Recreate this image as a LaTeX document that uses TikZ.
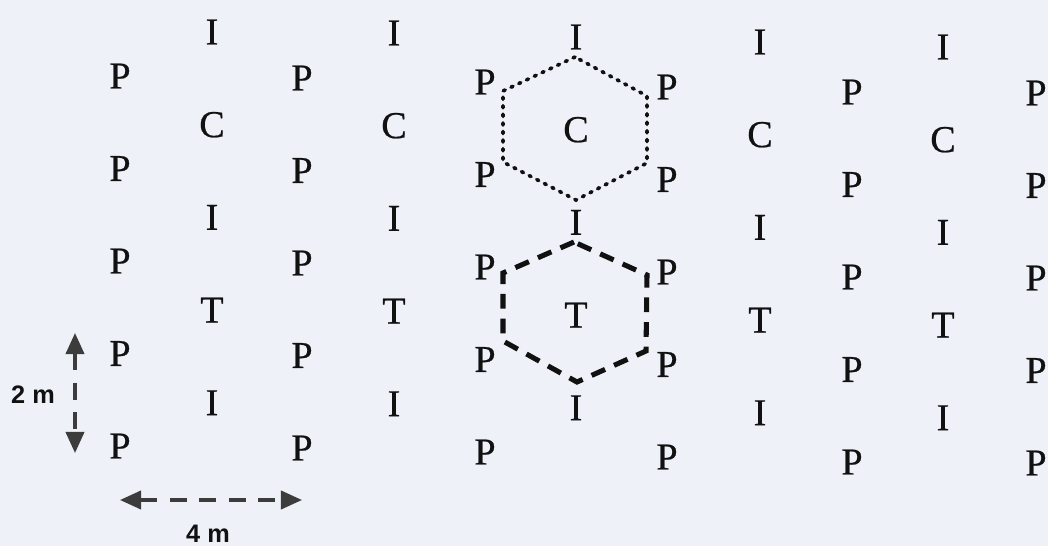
\documentclass[tikz,border=0pt]{standalone}
\usepackage{fontspec}
\setmainfont{Liberation Serif}
\newfontfamily\treefont[FakeBold=0.6]{Liberation Serif}
\newfontfamily\dimfont{Liberation Sans}
\usetikzlibrary{arrows.meta,calc}
\definecolor{paper}{HTML}{EEF2F8}
\definecolor{ink}{HTML}{111111}
\definecolor{dimgrey}{HTML}{3C3C3C}

\begin{document}
\begin{tikzpicture}[
  x=0.025cm, y=-0.025cm,
  >={Triangle[length=15pt,width=13pt]},
  tree/.style={font=\treefont\fontsize{27}{31}\selectfont, text=ink, inner sep=0pt},
  dimarr/.style={<->, draw=dimgrey, line width=2.3pt, dash pattern=on 12pt off 9pt},
  dimlab/.style={font=\dimfont\bfseries\fontsize{18}{20}\selectfont, text=ink, inner sep=0pt},
  hexdot/.style={draw=ink, line width=2.6pt, line cap=round, dash pattern=on 1.5pt off 4.6pt},
  hexdash/.style={draw=ink, line width=3.6pt, dash pattern=on 10.5pt off 7pt},
]

% ---- page ----
\useasboundingbox (0,0) rectangle (1048,546);
\fill[paper] (0,0) rectangle (1048,546);

% ---- pole columns (P) ----
\foreach \c/\x/\y in {1/120/76, 3/302/78, 5/485/82, 7/667/87, 9/852/92, 11/1036/93}
  \foreach \r in {0,...,4}
    \node[tree] (p\c-\r) at (\x,\y+92.5*\r) {P};

% ---- middle columns (I, C, T) ----
\foreach \c/\x/\y in {2/212/32, 4/394/33, 6/576/37, 8/760/42, 10/943/47}
  \foreach \r/\t in {0/I,1/C,2/I,3/T,4/I}
    \node[tree] (m\c-\r) at (\x,\y+92.7*\r) {\t};

% ---- hexagons ----
\coordinate (hexC) at (575,128);
\coordinate (hexT) at (575,311);
\draw[hexdot] ($(hexC)+(0,-71)$) -- ($(hexC)+(-72,-37)$) -- ($(hexC)+(-72,34)$)
  -- ($(hexC)+(1,72)$) -- ($(hexC)+(72,35)$) -- ($(hexC)+(72,-32)$) -- cycle;
\draw[hexdash] ($(hexT)+(-1,-69)$) -- ($(hexT)+(-72,-38)$) -- ($(hexT)+(-72,30)$)
  -- ($(hexT)+(2,71)$) -- ($(hexT)+(71,40)$) -- ($(hexT)+(72,-36)$) -- cycle;

% ---- scale ----
\coordinate (vtop) at (75,333);
\coordinate (vbot) at (75,453);
\coordinate (hdim) at (0,500);
\draw[dimarr] (vtop) -- (vbot);
\node[dimlab] (lab2m) at (33,395) {2 m};
\draw[dimarr] (p1-4 |- hdim) -- (p3-4 |- hdim);
\node[dimlab] (lab4m) at (208,534) {4 m};

\end{tikzpicture}
\end{document}
